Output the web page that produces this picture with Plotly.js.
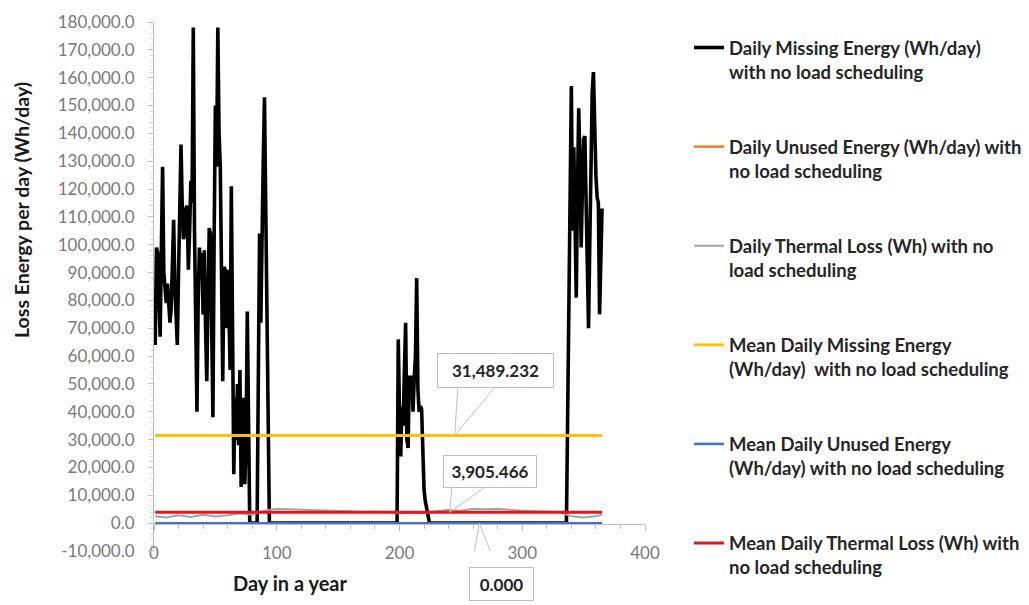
<!DOCTYPE html>
<html><head><meta charset="utf-8">
<script src="https://cdn.plot.ly/plotly-3.0.1.min.js"></script>
<style>html,body{margin:0;padding:0;background:#fff}#chart{width:1029px;height:605px}</style>
</head><body><div id="chart"></div>
<script>
// ---- data ----
const missingDays = [1,2,3,4,5,6,7,8,9,10,11,12,13,14,15,16,17,18,19,20,21,22,23,24,25,26,27,28,29,30,
  31,32,33,34,35,36,37,38,39,40,41,42,43,44,45,46,47,48,49,50,51,52,53,54,55,56,57,58,59,60,
  61,62,63,64,65,66,67,68,69,70,71,72,73,74,75,76,77,78,84,86,87,88,89,90,91,92,93,94,
  198,199,200,201,202,203,204,205,206,207,208,209,210,211,212,213,214,215,216,217,218,219,220,221,222,223,224,225,
  336,340,341,342,343,344,345,346,347,348,349,350,351,352,353,354,355,356,357,358,359,360,361,362,363,365];
const missingEnergy = [64000,99000,97000,85000,67000,98000,128000,90000,82000,79000,86000,80000,72000,77000,96000,109000,85000,70000,64000,90000,113000,136000,114000,102000,104000,113000,114000,91000,105000,123000,
  115000,178000,105000,60000,40000,80000,99000,88000,97000,75000,98000,70000,51000,80000,106000,104000,60000,38000,103000,150000,128000,178000,140000,128000,90000,51000,92000,91000,70000,91000,
  78000,55000,121000,60000,17600,45000,30000,50000,28000,55000,13000,40000,45000,14000,30000,76000,30000,0,0,104000,72000,110000,130000,153000,112000,100000,40000,0,
  0,66000,40000,24000,42000,35000,55000,72000,30000,27000,53000,45000,53000,40000,52000,60000,88000,48000,40000,42000,41000,25000,12000,8000,5000,3000,1000,0,
  0,157000,105000,135000,110000,81000,120000,149000,130000,99000,120000,138000,139000,120000,95000,70000,100000,140000,155000,162000,140000,125000,117000,115000,75000,113000];
const unusedDays = [1, 365];
const unusedEnergy = [0, 0];
const thermalDays = [1,10,20,30,40,50,60,70,80,90,100,110,120,130,140,150,160,170,180,190,200,210,220,230,240,250,260,270,280,290,300,310,320,330,340,350,360,365];
const thermalLoss = [2500,2000,2800,2200,3000,2400,2800,3500,3000,4500,5200,5000,4800,4600,4500,4400,4300,4000,4200,4000,3500,3800,3600,4300,4700,4500,5200,5000,5200,4800,4500,4300,4200,4000,2500,2000,2500,3000];
const meanDays = [1, 365];
const meanMissingEnergy = 31489.232;
const meanUnusedEnergy = 0;
const meanThermalLoss = 3905.466;
const seriesNames = [
  'Daily Missing Energy (Wh/day)<br>with no load scheduling',
  'Daily Unused Energy (Wh/day) with<br>no load scheduling',
  'Daily Thermal Loss (Wh) with no<br>load scheduling',
  'Mean Daily Missing Energy<br>(Wh/day)  with no load scheduling',
  'Mean Daily Unused Energy<br>(Wh/day) with no load scheduling',
  'Mean Daily Thermal Loss (Wh) with<br>no load scheduling'
];
const xTickVals = [0, 100, 200, 300, 400];
const xTickText = ['0', '100', '200', '300', '400'];
const yTickVals = [-10000,0,10000,20000,30000,40000,50000,60000,70000,80000,90000,100000,110000,120000,130000,140000,150000,160000,170000,180000];
const yTickText = ['-10,000.0','0.0','10,000.0','20,000.0','30,000.0','40,000.0','50,000.0','60,000.0','70,000.0','80,000.0','90,000.0','100,000.0','110,000.0','120,000.0','130,000.0','140,000.0','150,000.0','160,000.0','170,000.0','180,000.0'];
const xTitle = 'Day in a year';
const yTitle = 'Loss Energy per day (Wh/day)';

// ---- layout helpers ----
const W = 1029, H = 605, ML = 154, MR = 384, MT = 22, MB = 54;
const PW = W - ML - MR, PH = H - MT - MB;
const px2x = px => (px - ML) / PW;
const px2y = py => (H - MB - py) / PH;
const FONT = 'Lato, "Open Sans", sans-serif';
const fmt3 = v => v.toLocaleString('en-US', {minimumFractionDigits: 3, maximumFractionDigits: 3});

const constLine = (v) => meanDays.map(() => v);
const traces = [
  {x: missingDays, y: missingEnergy, name: seriesNames[0], line: {color: '#000000', width: 3.6}},
  {x: unusedDays, y: unusedEnergy, name: seriesNames[1], line: {color: '#ED7D31', width: 2.5}},
  {x: thermalDays, y: thermalLoss, name: seriesNames[2], line: {color: '#A5A5A5', width: 2}},
  {x: meanDays, y: constLine(meanMissingEnergy), name: seriesNames[3], line: {color: '#FFC000', width: 2.8}},
  {x: meanDays, y: constLine(meanUnusedEnergy), name: seriesNames[4], line: {color: '#4472C4', width: 2.5}},
  {x: meanDays, y: constLine(meanThermalLoss), name: seriesNames[5], line: {color: '#E8141B', width: 3}}
].map((t, i) => Object.assign({type: 'scatter', mode: 'lines', legendgroup: 'g' + i, hoverinfo: 'skip'}, t));

const calloutFont = {family: FONT, size: 17, color: '#262626', weight: 'bold'};
const callouts = [
  {day: 245, val: meanMissingEnergy, xs: 40.5, ys: 64.5, w: 111, h: 29, wedge: 'M 0 0 L 3 48 M 0 0 L 40 48'},
  {day: 241, val: meanThermalLoss, xs: 40.5, ys: 40.5, w: 88, h: 27, wedge: 'M 0 0 L 2 25 M 0 0 L 35 25'},
  {day: 265, val: meanUnusedEnergy, xs: 22.5, ys: -61, w: 59, h: 28, wedge: 'M 0 0 L -8 -46 M 0 0 L 18 -46'}
];

const annotations = callouts.map(c => ({
  x: c.day, y: c.val, xref: 'x', yref: 'y', showarrow: false,
  xshift: c.xs, yshift: c.ys, text: fmt3(c.val), font: calloutFont,
  bgcolor: '#ffffff', bordercolor: '#BFBFBF', borderwidth: 1, borderpad: 2,
  width: c.w, height: c.h, align: 'center', valign: 'middle'
}));
annotations.push({
  xref: 'paper', yref: 'paper', x: px2x(22), y: px2y(210), text: yTitle, textangle: -90,
  showarrow: false, font: {family: FONT, size: 19.5, color: '#1a1a1a', weight: 'bold'},
  xanchor: 'center', yanchor: 'middle'
});
annotations.push({
  xref: 'paper', yref: 'paper', x: px2x(290), y: px2y(583), text: xTitle,
  showarrow: false, font: {family: FONT, size: 20, color: '#1a1a1a', weight: 'bold'},
  xanchor: 'center', yanchor: 'middle'
});

const shapes = callouts.map(c => ({
  type: 'path', xref: 'x', yref: 'y', xsizemode: 'pixel', ysizemode: 'pixel',
  xanchor: c.day, yanchor: c.val, path: c.wedge,
  line: {color: '#BFBFBF', width: 1}, layer: 'above'
}));

const layout = {
  width: W, height: H,
  margin: {l: ML, r: MR, t: MT, b: MB, pad: 0},
  paper_bgcolor: '#ffffff', plot_bgcolor: '#ffffff',
  font: {family: FONT, color: '#262626'},
  showlegend: true,
  legend: {
    xref: 'container', yref: 'container', x: 689 / W, y: 1 - 29 / H, xanchor: 'left', yanchor: 'top',
    font: {family: FONT, size: 18.5, color: '#262626', weight: 'bold'},
    tracegroupgap: 48, valign: 'top', itemwidth: 30, bgcolor: 'rgba(0,0,0,0)', borderwidth: 0,
    traceorder: 'grouped', maxheight: 600
  },
  xaxis: {
    range: [0, 400], anchor: 'free', position: px2y(524),
    tickmode: 'array', tickvals: xTickVals, ticktext: xTickText,
    showline: true, linecolor: '#BFBFBF', linewidth: 1,
    ticks: 'outside', ticklen: 6, tickcolor: '#BFBFBF', ticklabelstandoff: 8,
    minor: {ticks: 'outside', dtick: 20, ticklen: 4, tickcolor: '#BFBFBF', showgrid: false},
    showgrid: false, zeroline: false,
    tickfont: {family: FONT, size: 17, color: '#7a7a7a'}
  },
  yaxis: {
    range: [-10000, 180000], anchor: 'x',
    tickmode: 'array', tickvals: yTickVals, ticktext: yTickText,
    showline: true, linecolor: '#BFBFBF', linewidth: 1,
    ticks: 'outside', ticklen: 5, tickcolor: '#BFBFBF', ticklabelstandoff: 10,
    minor: {ticks: 'outside', dtick: 2000, ticklen: 3, tickcolor: '#D9D9D9', showgrid: false},
    showgrid: false, zeroline: false,
    tickfont: {family: FONT, size: 17, color: '#7a7a7a'}
  },
  annotations: annotations,
  shapes: shapes
};

Plotly.newPlot('chart', traces, layout, {displayModeBar: false, staticPlot: true});
</script>
</body></html>
